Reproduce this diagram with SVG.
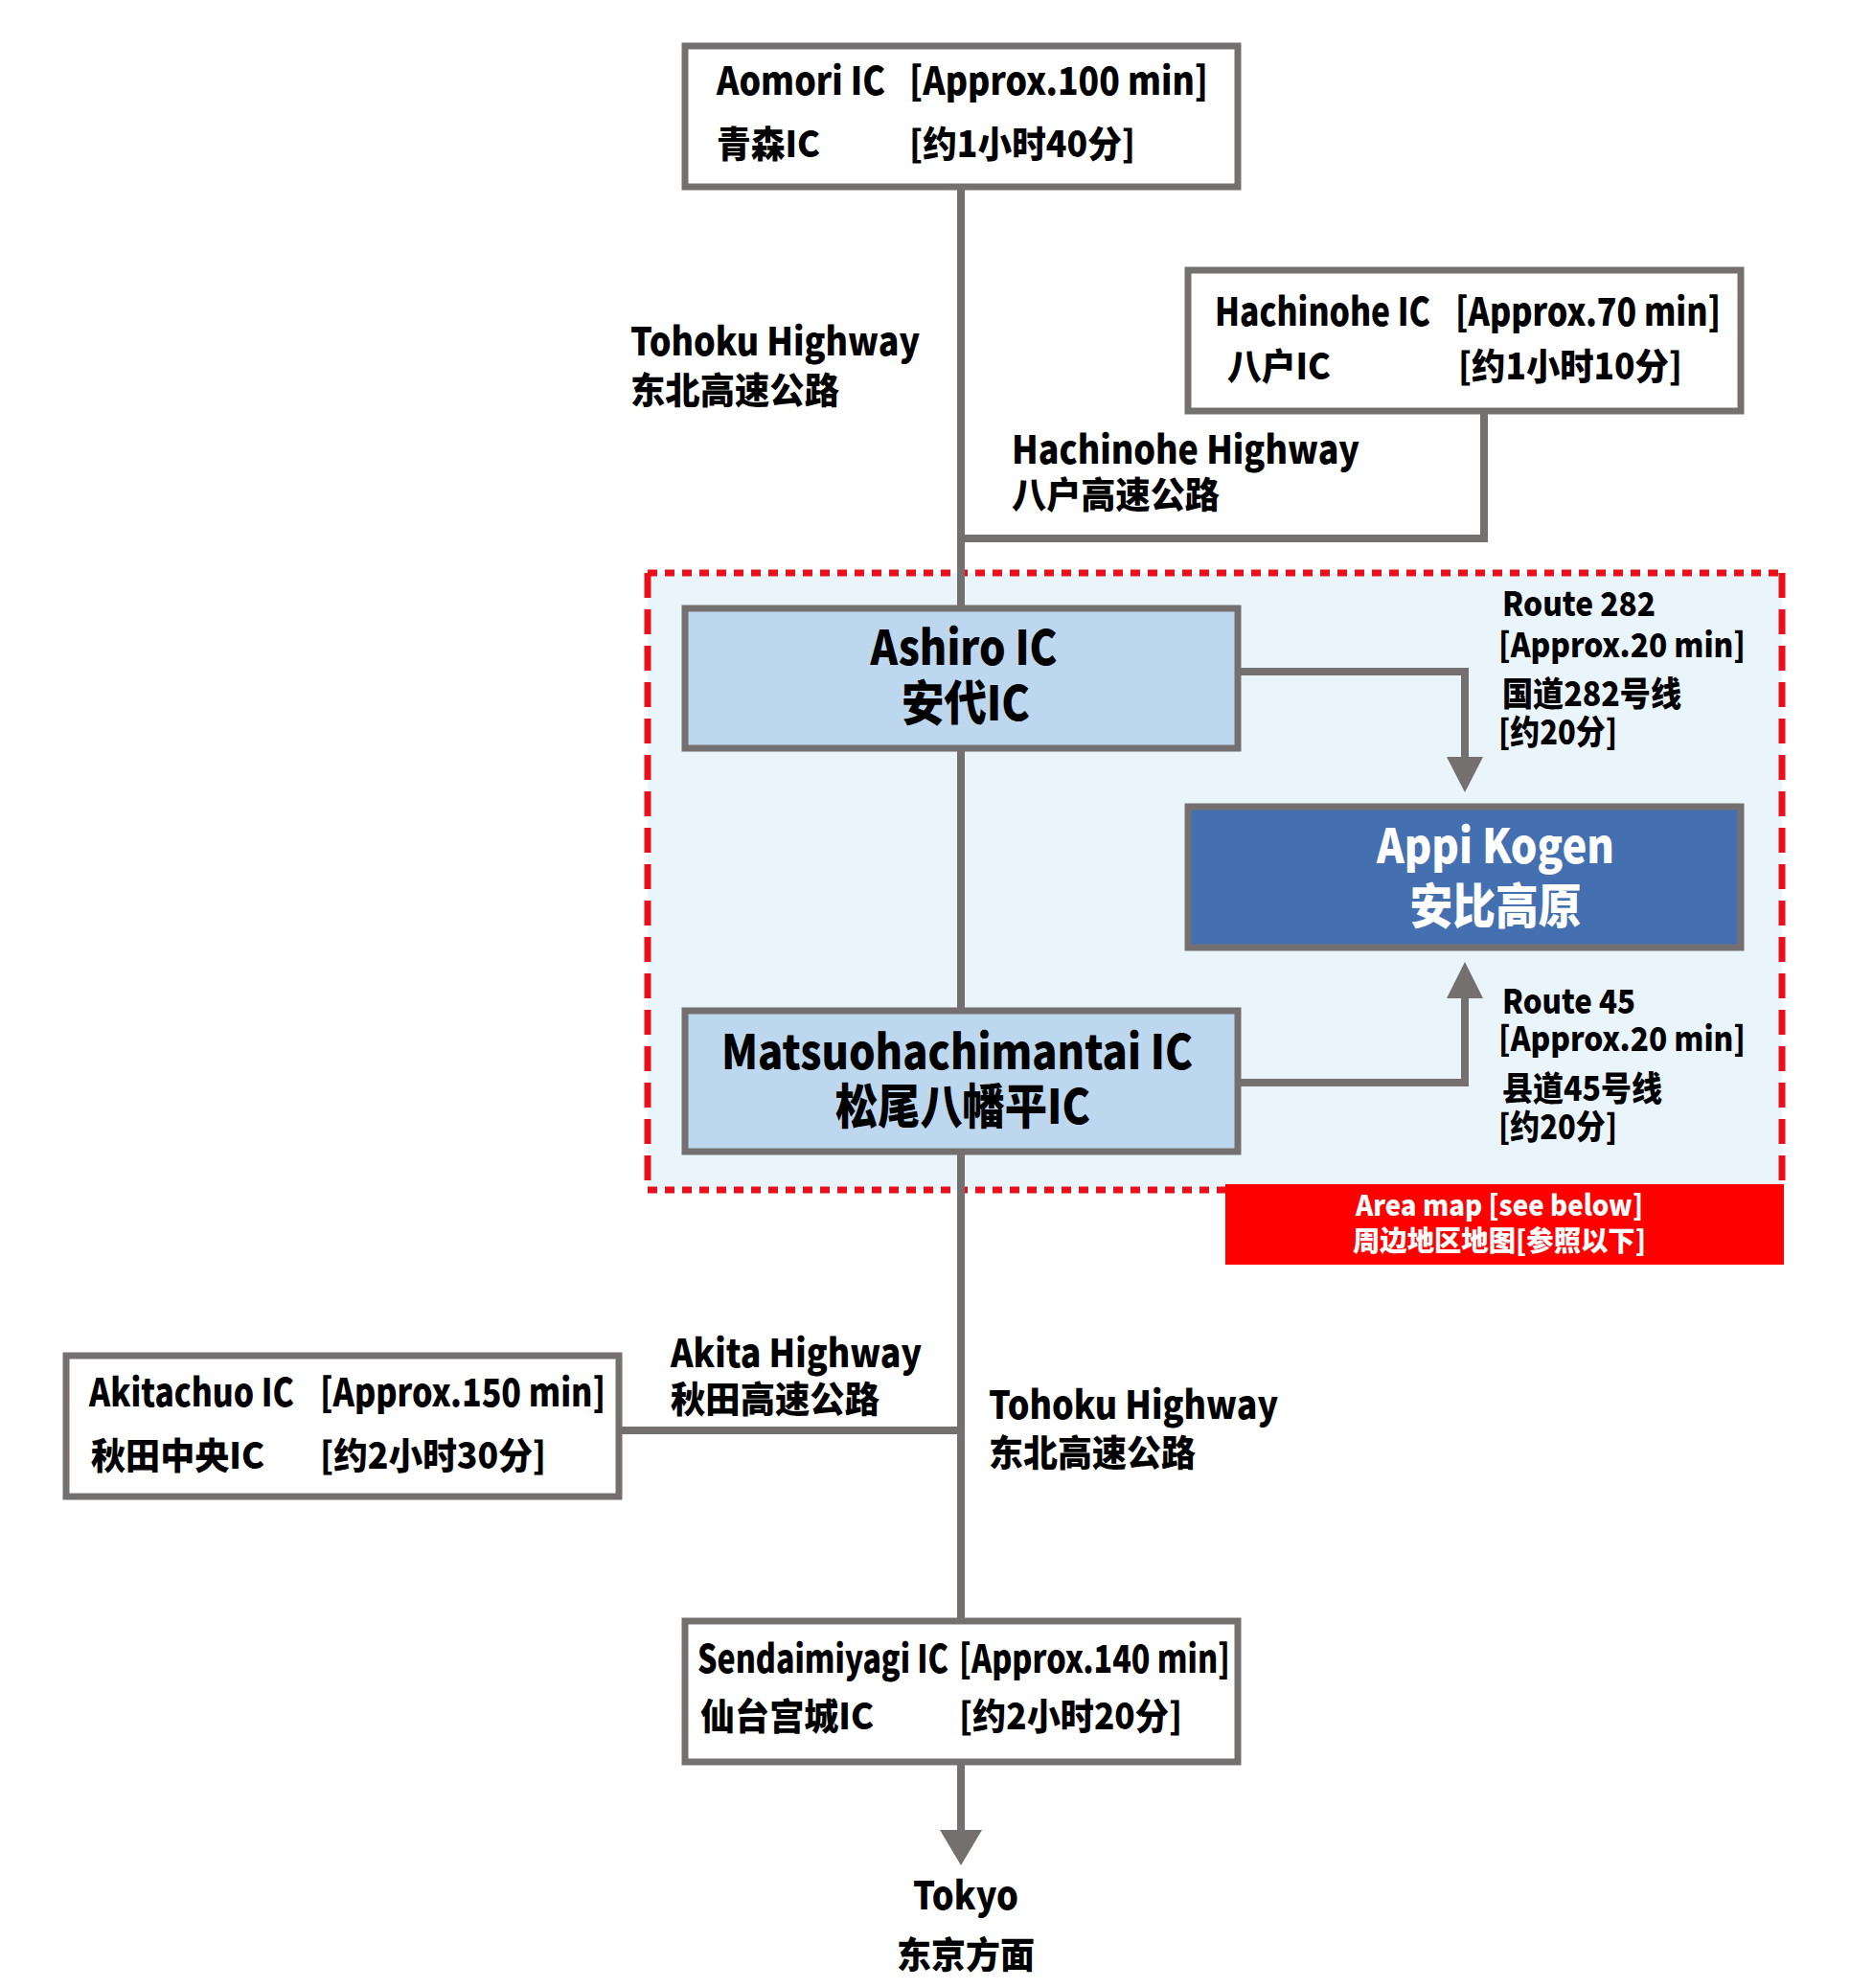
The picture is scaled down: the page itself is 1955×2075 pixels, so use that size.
<svg xmlns="http://www.w3.org/2000/svg" width="1955" height="2075" viewBox="0 0 1955 2075">
<style>
.t{font-family:"Noto Sans CJK SC","Noto Sans",sans-serif;font-weight:900;fill:#000}
.l{font-size:40px}
.c{font-size:38px}
.r{font-size:35px}
.big{font-size:50px}
.w{fill:#fff}
.box{fill:#fff;stroke:#747070;stroke-width:7}
.ic{fill:#BDD7EE;stroke:#747070;stroke-width:7}
.dst{fill:#4470B2;stroke:#747070;stroke-width:7}
.ln{fill:none;stroke:#747070;stroke-width:8}
.ah{fill:#747070}
.mid{text-anchor:middle}
</style>
<rect x="0" y="0" width="1955" height="2075" fill="#fff"/>
<g id="area">
<rect x="676" y="598" width="1184" height="644" fill="#EAF4FB"/>
<line x1="676" y1="598" x2="1860" y2="598" stroke="#E8101C" stroke-width="7" stroke-dasharray="10 8"/>
<line x1="676" y1="1242" x2="1280" y2="1242" stroke="#E8101C" stroke-width="7" stroke-dasharray="10 8"/>
<line x1="676" y1="598" x2="676" y2="1242" stroke="#E8101C" stroke-width="7" stroke-dasharray="26 12"/>
<line x1="1860" y1="598" x2="1860" y2="1238" stroke="#E8101C" stroke-width="7" stroke-dasharray="26 12"/>
</g>
<g id="connectors">
<line class="ln" x1="1003" y1="195" x2="1003" y2="1912"/>
<polyline class="ln" points="1549,429 1549,562 1003,562"/>
<polyline class="ln" points="1292,701 1529,701 1529,792"/>
<polygon class="ah" points="1510,790 1548,790 1529,827"/>
<polyline class="ln" points="1292,1130 1529,1130 1529,1040"/>
<polygon class="ah" points="1510,1042 1548,1042 1529,1004"/>
<line class="ln" x1="646" y1="1493" x2="1003" y2="1493"/>
<polygon class="ah" points="981,1910 1025,1910 1003,1947"/>
</g>
<g id="aomori">
<rect class="box" x="715" y="48" width="577" height="147"/>
<text class="t l" x="748" y="99" textLength="176" lengthAdjust="spacingAndGlyphs">Aomori IC</text>
<text class="t l" x="949" y="99" textLength="312" lengthAdjust="spacingAndGlyphs">[Approx.100 min]</text>
<text class="t c" x="748" y="164" textLength="108" lengthAdjust="spacingAndGlyphs">青森IC</text>
<text class="t c" x="949" y="164" textLength="236" lengthAdjust="spacingAndGlyphs">[约1小时40分]</text>
</g>
<g id="hachinohe">
<rect class="box" x="1240" y="282" width="577" height="147"/>
<text class="t l" x="1268" y="340" textLength="225" lengthAdjust="spacingAndGlyphs">Hachinohe IC</text>
<text class="t l" x="1519" y="340" textLength="277" lengthAdjust="spacingAndGlyphs">[Approx.70 min]</text>
<text class="t c" x="1281" y="396" textLength="108" lengthAdjust="spacingAndGlyphs">八户IC</text>
<text class="t c" x="1522" y="396" textLength="234" lengthAdjust="spacingAndGlyphs">[约1小时10分]</text>
</g>
<g id="label-tohoku-n">
<text class="t l" x="658" y="371" textLength="302" lengthAdjust="spacingAndGlyphs">Tohoku Highway</text>
<text class="t c" x="658" y="421" textLength="218" lengthAdjust="spacingAndGlyphs">东北高速公路</text>
</g>
<g id="label-hachinohe-hw">
<text class="t l" x="1056" y="484" textLength="363" lengthAdjust="spacingAndGlyphs">Hachinohe Highway</text>
<text class="t c" x="1056" y="530" textLength="217" lengthAdjust="spacingAndGlyphs">八户高速公路</text>
</g>
<g id="ashiro">
<rect class="ic" x="715" y="635" width="577" height="146"/>
<text class="t big mid" x="1006" y="694" textLength="195" lengthAdjust="spacingAndGlyphs">Ashiro IC</text>
<text class="t big mid" x="1008" y="752" textLength="134" lengthAdjust="spacingAndGlyphs">安代IC</text>
</g>
<g id="route282">
<text class="t r" x="1568" y="643" textLength="160" lengthAdjust="spacingAndGlyphs">Route 282</text>
<text class="t r" x="1564" y="686" textLength="258" lengthAdjust="spacingAndGlyphs">[Approx.20 min]</text>
<text class="t r" x="1568" y="737" textLength="187" lengthAdjust="spacingAndGlyphs">国道282号线</text>
<text class="t r" x="1564" y="777" textLength="124" lengthAdjust="spacingAndGlyphs">[约20分]</text>
</g>
<g id="appi">
<rect class="dst" x="1240" y="842" width="577" height="147"/>
<text class="t big mid w" x="1561" y="901" textLength="248" lengthAdjust="spacingAndGlyphs">Appi Kogen</text>
<text class="t big mid w" x="1561" y="964" textLength="179" lengthAdjust="spacingAndGlyphs">安比高原</text>
</g>
<g id="route45">
<text class="t r" x="1568" y="1058" textLength="139" lengthAdjust="spacingAndGlyphs">Route 45</text>
<text class="t r" x="1564" y="1097" textLength="258" lengthAdjust="spacingAndGlyphs">[Approx.20 min]</text>
<text class="t r" x="1568" y="1149" textLength="167" lengthAdjust="spacingAndGlyphs">县道45号线</text>
<text class="t r" x="1564" y="1189" textLength="124" lengthAdjust="spacingAndGlyphs">[约20分]</text>
</g>
<g id="matsuo">
<rect class="ic" x="715" y="1055" width="577" height="147"/>
<text class="t big mid" x="999" y="1116" textLength="492" lengthAdjust="spacingAndGlyphs">Matsuohachimantai IC</text>
<text class="t big mid" x="1005" y="1173" textLength="266" lengthAdjust="spacingAndGlyphs">松尾八幡平IC</text>
</g>
<g id="areamap">
<rect x="1279" y="1236" width="583" height="84" fill="#FF0000"/>
<text class="t mid w" style="font-size:30px" x="1565" y="1269" textLength="300" lengthAdjust="spacingAndGlyphs">Area map [see below]</text>
<text class="t mid w" style="font-size:29px" x="1565" y="1306" textLength="306" lengthAdjust="spacingAndGlyphs">周边地区地图[参照以下]</text>
</g>
<g id="akitachuo">
<rect class="box" x="69" y="1415" width="577" height="147"/>
<text class="t l" x="93" y="1468" textLength="214" lengthAdjust="spacingAndGlyphs">Akitachuo IC</text>
<text class="t l" x="334" y="1468" textLength="298" lengthAdjust="spacingAndGlyphs">[Approx.150 min]</text>
<text class="t c" x="95" y="1533" textLength="181" lengthAdjust="spacingAndGlyphs">秋田中央IC</text>
<text class="t c" x="334" y="1533" textLength="236" lengthAdjust="spacingAndGlyphs">[约2小时30分]</text>
</g>
<g id="label-akita-hw">
<text class="t l" x="700" y="1427" textLength="262" lengthAdjust="spacingAndGlyphs">Akita Highway</text>
<text class="t c" x="700" y="1474" textLength="218" lengthAdjust="spacingAndGlyphs">秋田高速公路</text>
</g>
<g id="label-tohoku-s">
<text class="t l" x="1032" y="1481" textLength="302" lengthAdjust="spacingAndGlyphs">Tohoku Highway</text>
<text class="t c" x="1032" y="1530" textLength="216" lengthAdjust="spacingAndGlyphs">东北高速公路</text>
</g>
<g id="sendai">
<rect class="box" x="715" y="1692" width="577" height="147"/>
<text class="t l" x="728" y="1746" textLength="262" lengthAdjust="spacingAndGlyphs">Sendaimiyagi IC</text>
<text class="t l" x="1001" y="1746" textLength="283" lengthAdjust="spacingAndGlyphs">[Approx.140 min]</text>
<text class="t c" x="731" y="1805" textLength="181" lengthAdjust="spacingAndGlyphs">仙台宫城IC</text>
<text class="t c" x="1001" y="1805" textLength="233" lengthAdjust="spacingAndGlyphs">[约2小时20分]</text>
</g>
<g id="tokyo">
<text class="t l mid" x="1008" y="1993" textLength="110" lengthAdjust="spacingAndGlyphs">Tokyo</text>
<text class="t c mid" x="1008" y="2054" textLength="144" lengthAdjust="spacingAndGlyphs">东京方面</text>
</g>
</svg>
